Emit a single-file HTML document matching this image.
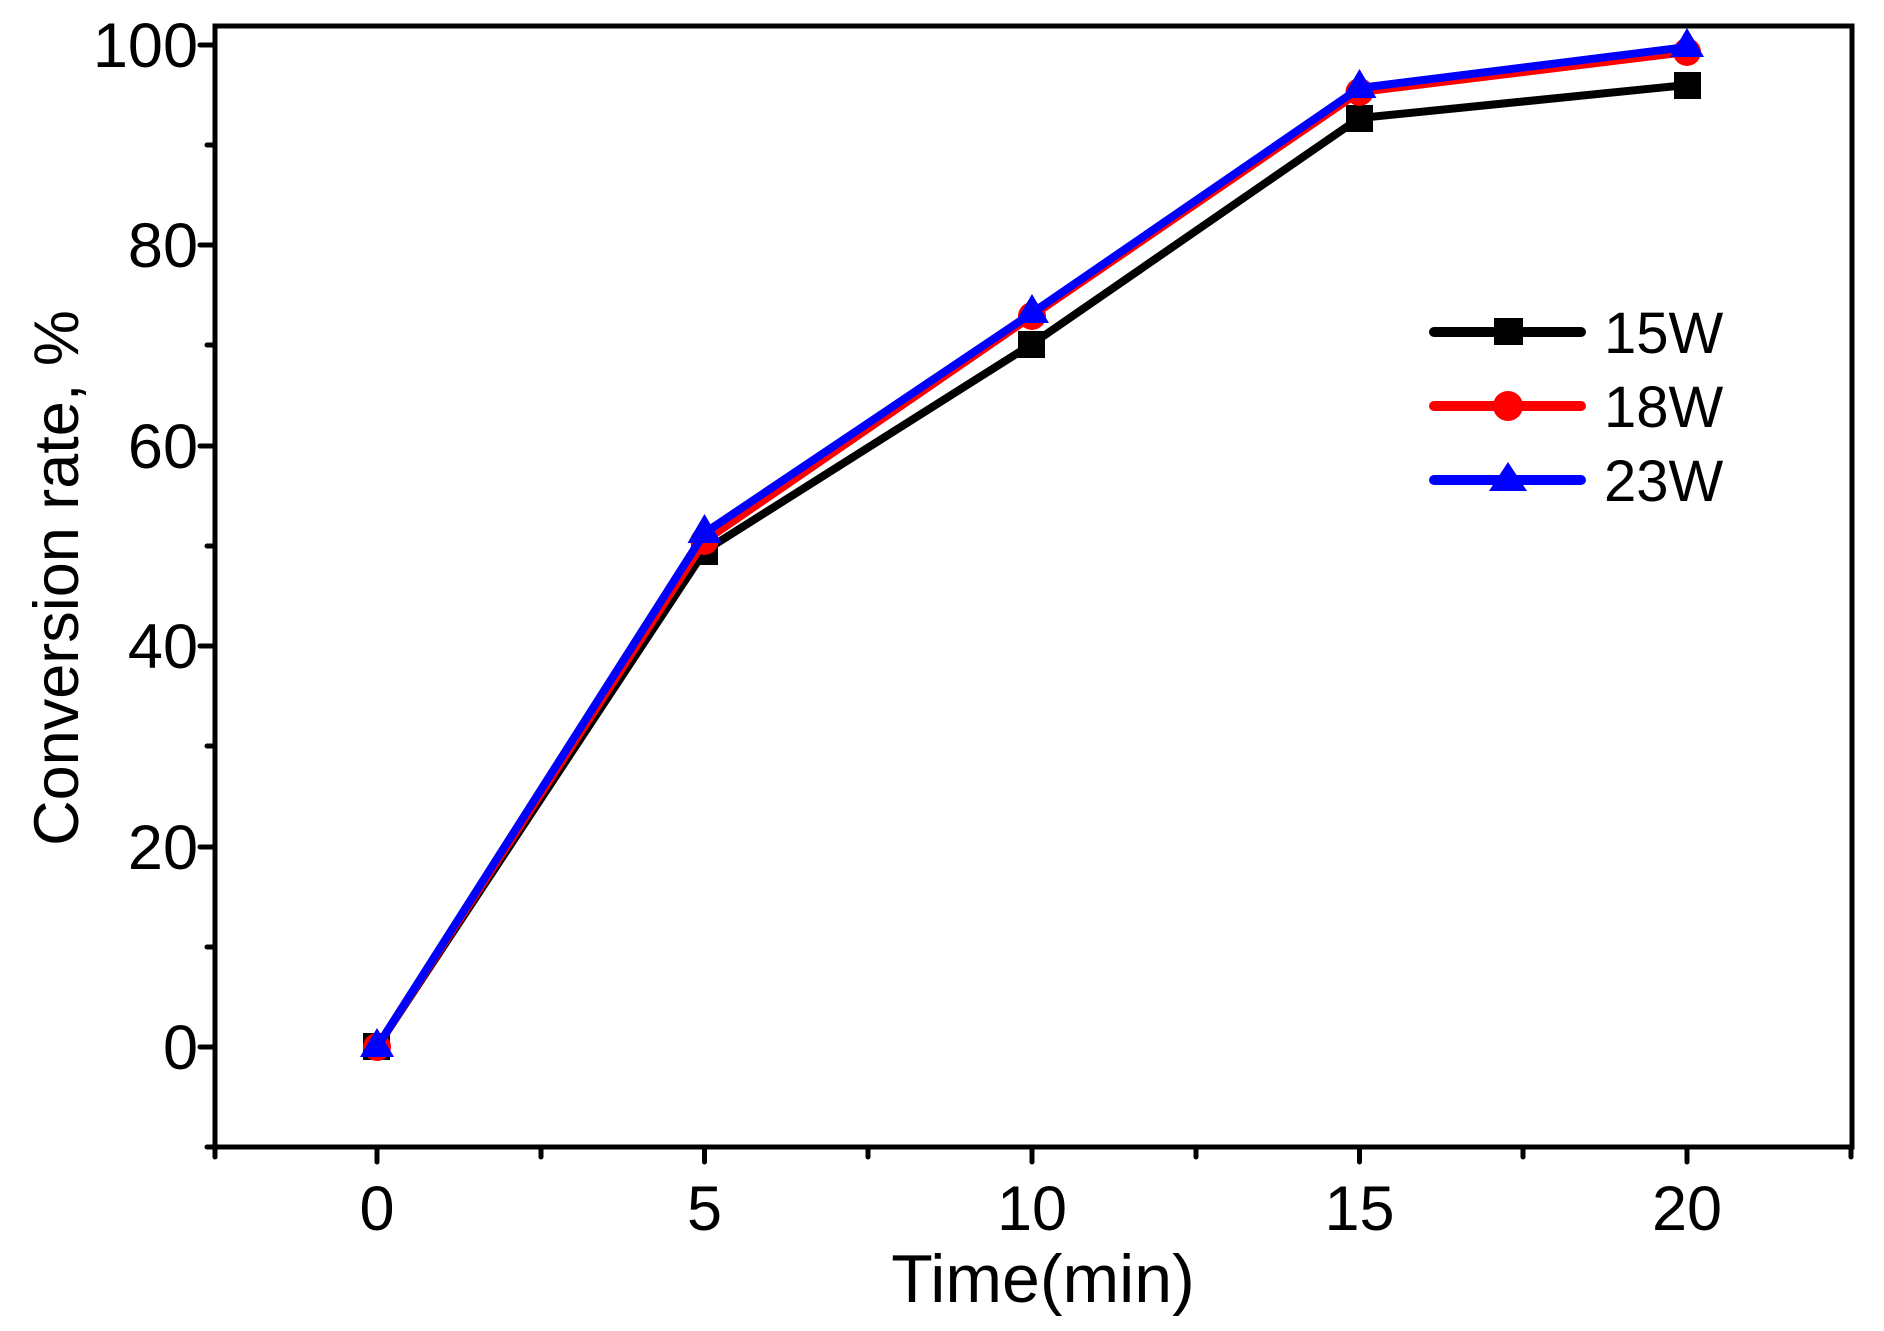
<!DOCTYPE html>
<html><head><meta charset="utf-8"><style>
html,body{margin:0;padding:0;background:#fff;}
svg{display:block;}
text{font-family:"Liberation Sans",Arial,sans-serif;fill:#000;}
</style></head><body>
<svg width="1884" height="1331" viewBox="0 0 1884 1331" xmlns="http://www.w3.org/2000/svg">
<rect x="0" y="0" width="1884" height="1331" fill="#fff"/>
<rect x="215" y="26" width="1637" height="1121" fill="none" stroke="#000" stroke-width="5"/>
<g stroke="#000" stroke-width="5" stroke-linecap="round">
<line x1="200" y1="1047" x2="215" y2="1047"/><line x1="200" y1="847" x2="215" y2="847"/>
<line x1="200" y1="646" x2="215" y2="646"/><line x1="200" y1="446" x2="215" y2="446"/>
<line x1="200" y1="245" x2="215" y2="245"/><line x1="200" y1="45" x2="215" y2="45"/>
<line x1="207" y1="1147" x2="215" y2="1147"/><line x1="207" y1="947" x2="215" y2="947"/>
<line x1="207" y1="746" x2="215" y2="746"/><line x1="207" y1="546" x2="215" y2="546"/>
<line x1="207" y1="345" x2="215" y2="345"/><line x1="207" y1="145" x2="215" y2="145"/>
<line x1="377" y1="1147" x2="377" y2="1162"/><line x1="704.5" y1="1147" x2="704.5" y2="1162"/>
<line x1="1032" y1="1147" x2="1032" y2="1162"/><line x1="1359.5" y1="1147" x2="1359.5" y2="1162"/>
<line x1="1687" y1="1147" x2="1687" y2="1162"/>
<line x1="215" y1="1147" x2="215" y2="1157"/><line x1="541" y1="1147" x2="541" y2="1157"/>
<line x1="868" y1="1147" x2="868" y2="1157"/><line x1="1196" y1="1147" x2="1196" y2="1157"/>
<line x1="1523" y1="1147" x2="1523" y2="1157"/><line x1="1851" y1="1147" x2="1851" y2="1157"/>
</g>
<g font-size="63" text-anchor="end">
<text x="198" y="1069">0</text><text x="198" y="869">20</text><text x="198" y="668">40</text>
<text x="198" y="468">60</text><text x="198" y="267">80</text><text x="198" y="67">100</text>
</g>
<g font-size="63" text-anchor="middle">
<text x="377" y="1230">0</text><text x="704.5" y="1230">5</text><text x="1032" y="1230">10</text>
<text x="1359.5" y="1230">15</text><text x="1687" y="1230">20</text>
</g>
<text x="1043" y="1302" font-size="68" text-anchor="middle">Time(min)</text>
<text transform="translate(78,578) rotate(-90)" font-size="63" text-anchor="middle">Conversion rate, %</text>
<!-- 15W -->
<polyline points="377,1047 704.5,551 1032,344 1359.5,118 1687,85" fill="none" stroke="#000" stroke-width="8" stroke-linejoin="round"/>
<g fill="#000">
<rect x="363" y="1033" width="27" height="27"/><rect x="691" y="538" width="27" height="27"/>
<rect x="1018" y="331" width="27" height="27"/><rect x="1346" y="105" width="27" height="27"/>
<rect x="1674" y="72" width="27" height="27"/>
</g>
<!-- 18W -->
<polyline points="377,1047 704.5,541 1032,316 1359.5,92 1687,52" fill="none" stroke="#f00" stroke-width="8" stroke-linejoin="round"/>
<g fill="#f00">
<circle cx="377" cy="1047" r="14"/><circle cx="704.5" cy="541" r="14"/><circle cx="1032" cy="316" r="14"/>
<circle cx="1359.5" cy="92" r="14"/><circle cx="1687" cy="52" r="14"/>
</g>
<!-- 23W -->
<polyline points="377,1047 704.5,533 1032,313 1359.5,88 1687,47" fill="none" stroke="#00f" stroke-width="8" stroke-linejoin="round"/>
<g fill="#00f">
<polygon points="377,1028 394,1057 360,1057"/><polygon points="704.5,514 721.5,543 687.5,543"/>
<polygon points="1032,294 1049,323 1015,323"/><polygon points="1359.5,69 1376.5,98 1342.5,98"/>
<polygon points="1687,28 1704,57 1670,57"/>
</g>
<!-- legend -->
<line x1="1434" y1="332" x2="1581" y2="332" stroke="#000" stroke-width="10" stroke-linecap="round"/>
<rect x="1494" y="318" width="29" height="27" fill="#000"/>
<text x="1604" y="353" font-size="58">15W</text>
<line x1="1434" y1="406" x2="1581" y2="406" stroke="#f00" stroke-width="10" stroke-linecap="round"/>
<circle cx="1508" cy="406" r="15" fill="#f00"/>
<text x="1604" y="427" font-size="58">18W</text>
<line x1="1434" y1="480" x2="1581" y2="480" stroke="#00f" stroke-width="10" stroke-linecap="round"/>
<polygon points="1508,462 1527,491 1489,491" fill="#00f"/>
<text x="1604" y="501" font-size="58">23W</text>
</svg>
</body></html>
